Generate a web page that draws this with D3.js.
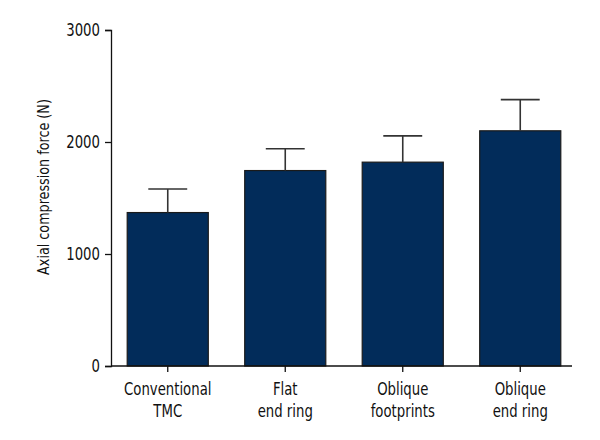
<!DOCTYPE html>
<html>
<head>
<meta charset="utf-8">
<script src="https://d3js.org/d3.v7.min.js"></script>
<style>
  body { margin: 0; background: #fff; }
  text { font-family: "Liberation Sans Narrow", "DejaVu Sans Condensed", sans-serif; fill: #111; }
</style>
</head>
<body>
<div id="chart"></div>
<script>
// values
var categories = ["Conventional\nTMC", "Flat\nend ring", "Oblique\nfootprints", "Oblique\nend ring"];
var means = [1370, 1745, 1820, 2100];
var errTops = [1580, 1940, 2055, 2378];
var yTicks = [0, 1000, 2000, 3000];

var width = 600, height = 440;
var squeeze = 0.82; // the source font is narrower than anything installed

var svg = d3.select("#chart").append("svg")
    .attr("width", width)
    .attr("height", height);

var x = d3.scaleBand()
    .domain(categories)
    .range([109, 579])
    .paddingInner(0.31)
    .paddingOuter(0.155);

var y = d3.scaleLinear()
    .domain([0, 3000])
    .range([366, 30]);

var axisX = 111, axisEnd = 572;

// y axis
var yAxis = svg.append("g")
    .attr("transform", "translate(" + axisX + ",0)")
    .call(d3.axisLeft(y).tickValues(yTicks).tickSize(6).tickPadding(4).tickFormat(d3.format("d")));
yAxis.select(".domain").attr("stroke", "#111").attr("stroke-width", 1.3);
yAxis.selectAll(".tick line").attr("stroke", "#111").attr("stroke-width", 1.3);
yAxis.selectAll(".tick text")
    .style("font-size", "18px")
    .attr("fill", "#111")
    .attr("x", -11 / squeeze)
    .attr("transform", "scale(" + squeeze + ",1)");

// bars
svg.append("g").selectAll("rect")
    .data(means)
    .enter().append("rect")
    .attr("x", function(d, i) { return x(categories[i]); })
    .attr("y", function(d) { return y(d); })
    .attr("width", x.bandwidth())
    .attr("height", function(d) { return y(0) - y(d); })
    .attr("fill", "#022c5a")
    .attr("stroke", "#1a1a1a")
    .attr("stroke-width", 1.2);

// error bars (upper only)
var capHalf = x.bandwidth() * 0.24;
var err = svg.append("g").selectAll("g")
    .data(errTops)
    .enter().append("g")
    .attr("stroke", "#333")
    .attr("stroke-width", 1.6);
err.append("line")
    .attr("x1", function(d, i) { return x(categories[i]) + x.bandwidth() / 2; })
    .attr("x2", function(d, i) { return x(categories[i]) + x.bandwidth() / 2; })
    .attr("y1", function(d, i) { return y(means[i]); })
    .attr("y2", function(d) { return y(d); });
err.append("line")
    .attr("x1", function(d, i) { return x(categories[i]) + x.bandwidth() / 2 - capHalf; })
    .attr("x2", function(d, i) { return x(categories[i]) + x.bandwidth() / 2 + capHalf; })
    .attr("y1", function(d) { return y(d); })
    .attr("y2", function(d) { return y(d); });

// x axis
svg.append("line")
    .attr("x1", axisX).attr("x2", axisEnd)
    .attr("y1", y(0)).attr("y2", y(0))
    .attr("stroke", "#111").attr("stroke-width", 1.3);

var xt = svg.append("g").selectAll("g")
    .data(categories)
    .enter().append("g")
    .attr("transform", function(d) { return "translate(" + (x(d) + x.bandwidth() / 2) + "," + y(0) + ")"; });
xt.append("line")
    .attr("y1", 0).attr("y2", 6)
    .attr("stroke", "#111").attr("stroke-width", 1.3);
xt.append("text")
    .attr("text-anchor", "middle")
    .attr("transform", "scale(" + squeeze + ",1)")
    .style("font-size", "18px")
    .selectAll("tspan")
    .data(function(d) { return d.split("\n"); })
    .enter().append("tspan")
    .attr("x", 0)
    .attr("y", function(d, i) { return 29 + i * 22; })
    .text(function(d) { return d; });

// y label
svg.append("text")
    .attr("transform", "translate(49,187) rotate(-90) scale(0.86,1)")
    .attr("text-anchor", "middle")
    .style("font-size", "16.5px")
    .text("Axial compression force (N)");
</script>
</body>
</html>
